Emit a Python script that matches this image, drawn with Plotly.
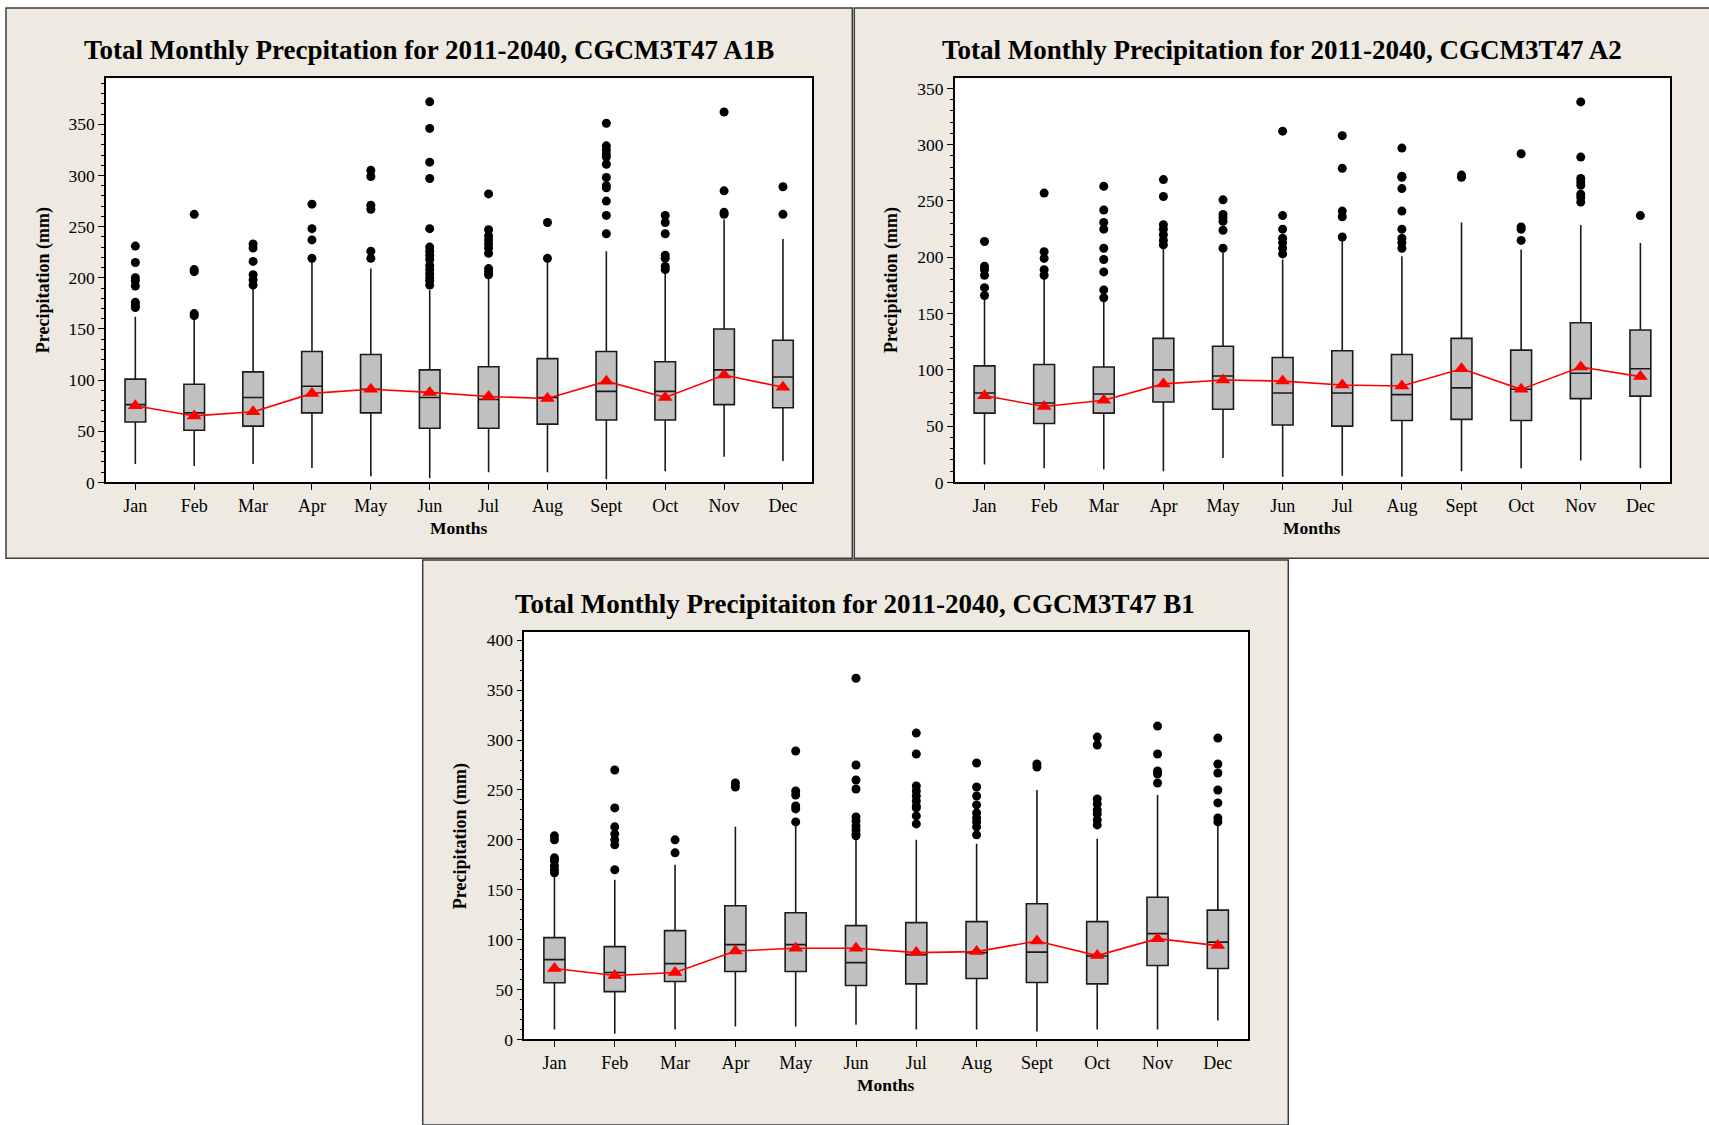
import plotly.graph_objects as go

W, H = 1709, 1125

months = ["Jan", "Feb", "Mar", "Apr", "May", "Jun", "Jul", "Aug", "Sept", "Oct", "Nov", "Dec"]

# ---------------- A1B ----------------
a1b_q1 = [59, 51, 55, 68, 68, 53, 53, 57, 61, 61, 76, 73]
a1b_median = [76, 68, 83, 94, 91, 83, 81, 83, 89, 89, 110, 103]
a1b_q3 = [101, 96, 108, 128, 125, 110, 113, 121, 128, 118, 150, 139]
a1b_low = [18, 16, 18, 14, 6, 4, 10, 10, 3, 11, 25, 21]
a1b_high = [162, 160, 192, 216, 209, 188, 200, 216, 226, 208, 257, 238]
a1b_mean = [75, 65, 69, 87, 91, 88, 84, 82, 99, 83, 105, 93]
a1b_outliers = [
    [231, 215, 200, 197, 192, 176, 173, 171],
    [262, 208, 206, 165, 163],
    [233, 229, 216, 203, 198, 193],
    [272, 248, 237, 219],
    [305, 299, 271, 267, 226, 219],
    [372, 346, 313, 297, 248, 230, 226, 222, 218, 212, 208, 204, 200, 197, 193],
    [282, 247, 241, 237, 233, 229, 224, 209, 206, 203],
    [254, 219],
    [351, 329, 325, 321, 318, 311, 298, 290, 288, 275, 261, 243],
    [261, 254, 243, 222, 219, 211, 208],
    [362, 285, 264, 262],
    [289, 262],
]

# ---------------- A2 ----------------
a2_q1 = [61.6, 52.4, 61.6, 71.5, 65, 51, 50, 55, 56, 55, 74.4, 76.7]
a2_median = [79.5, 70.6, 78.6, 100, 94.5, 79.5, 79.5, 78, 84, 82.7, 97, 101]
a2_q3 = [103.5, 104.8, 102.5, 128, 121, 111, 117, 113.7, 128, 117.5, 141.8, 135.4]
a2_low = [16, 12.5, 11.5, 10, 21.7, 5, 6, 5, 10, 12.5, 19.5, 12.5]
a2_high = [165, 180.8, 161.6, 209.5, 204, 198, 215, 201, 231, 207, 228.7, 212.7]
a2_mean = [77, 67.4, 73, 87.5, 91, 90, 86.5, 85.6, 101, 82.7, 102.5, 94]
a2_outliers = [
    [214, 192, 189, 184, 173, 166],
    [257, 205, 199, 189, 184],
    [263, 242, 231, 225, 208, 198, 187, 171, 164],
    [269, 254, 229, 225, 220, 215, 211],
    [251, 238, 235, 232, 224, 208],
    [312, 237, 225, 217, 213, 208, 203],
    [308, 279, 241, 236, 218],
    [297, 272, 271, 261, 241, 225, 217, 213, 208],
    [273, 271],
    [292, 227, 225, 215],
    [338, 289, 270, 267, 264, 256, 253, 249],
    [237],
]

# ---------------- B1 ----------------
b1_q1 = [56.8, 47.9, 58, 68, 68, 54, 55.7, 61, 57, 55.7, 74, 71]
b1_median = [80, 67, 76, 95, 95, 77, 85, 87, 87.5, 83.6, 106, 97.5]
b1_q3 = [102, 93, 109, 134, 127, 114, 117, 118, 136, 118, 142.5, 129.6]
b1_low = [10, 5.7, 10, 13, 13, 14.6, 10, 10, 8, 10, 10, 19]
b1_high = [165, 160, 175, 213, 216, 200, 200, 196, 250, 201, 245, 214.6]
b1_mean = [71, 64, 67, 88.6, 91.4, 91.4, 87, 88, 98.6, 84, 101, 94]
b1_outliers = [
    [204, 200, 182, 179, 174, 170, 167],
    [270, 232, 213, 206, 200, 195, 170],
    [200, 187],
    [257, 253],
    [289, 249, 245, 234, 231, 218],
    [362, 275, 260, 251, 223, 219, 214, 210, 206, 204],
    [307, 286, 254, 249, 244, 239, 234, 232, 224, 216],
    [277, 253, 244, 235, 227, 222, 218, 213, 205],
    [276, 273],
    [303, 295, 241, 236, 230, 226, 220, 215],
    [314, 286, 269, 266, 257],
    [302, 276, 267, 250, 237, 222, 218],
]

titles = [
    "Total Monthly Precpitation for 2011-2040, CGCM3T47 A1B",
    "Total Monthly Precipitation for 2011-2040, CGCM3T47 A2",
    "Total Monthly Precipitaiton for 2011-2040, CGCM3T47 B1",
]

SERIF = "Liberation Serif"
PANEL_BG = "#EEEAE1"
PANEL_LINE = "#3c3c3c"


def px_x(v):
    return v / W


def px_y(v):
    return 1 - v / H


# panel geometry (pixels): (panel rect, plot rect, y range max, title centre x)
panels = [
    dict(rect=(6, 6, 852.3, 562.3), plot=(105.9, 77.1, 812.4, 485.6), ymax=395, tx=429),
    dict(rect=(854.3, 6, 1715, 562.3), plot=(954.7, 77.1, 1670.2, 485.6), ymax=359, tx=1282),
    dict(rect=(422.7, 564, 1288.3, 1135), plot=(524.3, 637.1, 1248, 1048.6), ymax=408, tx=855),
]

datasets = [
    (a1b_q1, a1b_median, a1b_q3, a1b_low, a1b_high, a1b_mean, a1b_outliers),
    (a2_q1, a2_median, a2_q3, a2_low, a2_high, a2_mean, a2_outliers),
    (b1_q1, b1_median, b1_q3, b1_low, b1_high, b1_mean, b1_outliers),
]

fig = go.Figure()
shapes = []
annotations = []
layout_axes = {}

for i, (pan, ds, title) in enumerate(zip(panels, datasets, titles)):
    n = "" if i == 0 else str(i + 1)
    xa, ya = "x" + n, "y" + n
    q1, med, q3, lo, hi, mean, outl = ds

    fig.add_trace(go.Box(
        x=months, q1=q1, median=med, q3=q3, lowerfence=lo, upperfence=hi,
        boxpoints=False, fillcolor="#C0C0C0",
        line=dict(color="#1a1a1a", width=1.6), whiskerwidth=0, width=0.35,
        xaxis=xa, yaxis=ya, showlegend=False, hoverinfo="skip",
    ))
    ox, oy = [], []
    for m, vals in zip(months, outl):
        for v in vals:
            ox.append(m)
            oy.append(v)
    fig.add_trace(go.Scatter(
        x=ox, y=oy, mode="markers", marker=dict(color="black", size=9, symbol="circle"),
        xaxis=xa, yaxis=ya, showlegend=False, hoverinfo="skip",
    ))
    fig.add_trace(go.Scatter(
        x=months, y=mean, mode="lines+markers",
        line=dict(color="#FF0000", width=1.6),
        marker=dict(color="#FF0000", size=13, symbol="triangle-up"),
        xaxis=xa, yaxis=ya, showlegend=False, hoverinfo="skip",
    ))

    x0, y0, x1, y1 = pan["plot"]
    layout_axes["xaxis" + n] = dict(
        domain=[px_x(x0), px_x(x1)], anchor=ya,
        categoryorder="array", categoryarray=months, range=[-0.5, 11.5],
        showline=True, linecolor="black", linewidth=1.5, mirror=True,
        ticks="outside", ticklen=6, tickcolor="black", tickwidth=1,
        showgrid=False, zeroline=False,
        tickfont=dict(family=SERIF, size=18, color="black"),
    )
    layout_axes["yaxis" + n] = dict(
        domain=[px_y(y1), px_y(y0)], anchor=xa,
        range=[0, pan["ymax"]], tick0=0, dtick=50,
        showline=True, linecolor="black", linewidth=1.5, mirror=True,
        ticks="outside", ticklen=6, tickcolor="black", tickwidth=1,
        minor=dict(dtick=10, tick0=0, ticks="outside", ticklen=3, tickcolor="black", tickwidth=1, showgrid=False),
        showgrid=False, zeroline=False,
        tickfont=dict(family=SERIF, size=17.5, color="black"),
    )

    rx0, ry0, rx1, ry1 = pan["rect"]
    shapes.append(dict(type="rect", xref="paper", yref="paper", layer="below",
                       x0=px_x(rx0), x1=px_x(rx1), y0=px_y(ry1), y1=px_y(ry0),
                       fillcolor=PANEL_BG, line=dict(color=PANEL_LINE, width=1.5)))
    shapes.append(dict(type="rect", xref="paper", yref="paper", layer="below",
                       x0=px_x(x0), x1=px_x(x1), y0=px_y(y1), y1=px_y(y0),
                       fillcolor="white", line=dict(width=0)))

    annotations.append(dict(
        text="<b>" + title + "</b>", xref="paper", yref="paper",
        x=px_x(pan["tx"]), y=px_y(y0 - 29),
        xanchor="center", yanchor="middle", showarrow=False,
        font=dict(family=SERIF, size=27, color="black"),
    ))
    annotations.append(dict(
        text="<b>Months</b>", xref="paper", yref="paper",
        x=px_x((x0 + x1) / 2), y=px_y(y1 + 46),
        xanchor="center", yanchor="middle", showarrow=False,
        font=dict(family=SERIF, size=17.5, color="black"),
    ))
    annotations.append(dict(
        text="<b>Precipitation (mm)</b>", xref="paper", yref="paper",
        x=px_x(x0 - 63), y=px_y((y0 + y1) / 2), textangle=-90,
        xanchor="center", yanchor="middle", showarrow=False,
        font=dict(family=SERIF, size=18, color="black"),
    ))

fig.update_layout(
    width=W, height=H, autosize=False,
    margin=dict(l=0, r=0, t=0, b=0, pad=0),
    paper_bgcolor="white", plot_bgcolor="white",
    shapes=shapes, annotations=annotations,
    **layout_axes,
)

fig.write_html("out.html")
